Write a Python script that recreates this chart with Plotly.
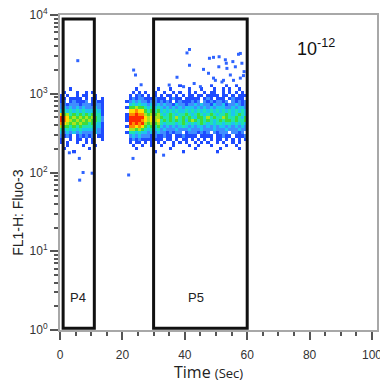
import numpy as np
import plotly.graph_objects as go

# ---------------- data ----------------
# density grid: 1-second time bins (0..59), rows are log10(FL1-H) bin centres (top -> bottom)
fl_row_log = [3.10, 3.06, 3.02, 2.98, 2.94, 2.90, 2.86, 2.82, 2.78, 2.74, 2.70,
              2.66, 2.62, 2.58, 2.54, 2.50, 2.46, 2.42, 2.38, 2.34, 2.30, 2.26]
time_bin_start = list(range(60))

# event density level per cell ('.' = no events, 1 = sparse ... 9 = densest)
# first cluster, t = 0..14 s
density_p4 = [
    "..............",
    "...1..........",
    ".1...1..1.1...",
    "1.1..1.11..1..",
    "11.1111.1.11.1",
    "12.121112.1211",
    "22122212221221",
    "23232323222321",
    "34343434333431",
    "75645454545441",
    "98756565656542",
    "98765656565542",
    "87656565545431",
    "65545454444331",
    "43434343333321",
    "32323232222321",
    "2121.121212.11",
    "1..1.11.1.1..1",
    "1.1..1..1.1...",
    "..1....1...1..",
    ".1.......1....",
    "....1.........",
]
# no events, t = 14..21 s
density_gap = "......."
# second cluster, t = 21..60 s
density_p5 = [
    "." + "....." + "....." + "......1.........1....1..1...",
    "." + "..1.." + "....1" + "...1.....1...1...1..1.1..1..",
    "." + ".1.1." + "1..1." + ".1..1.1..1.1..1.11..1.1.1.1.",
    "." + "1.121" + ".1.1." + "1.11.1.1.11.11.1111.11.1.111",
    "." + "12122" + "11121" + "11.1211.11111.121.111.12111.",
    "1" + "23232" + "21221" + "2121.12111212.21212212.21212",
    "." + "34343" + "32323" + "2322132212232322132231223212",
    "1" + "55655" + "43434" + "3232323233323232323332232332",
    "." + "77877" + "54545" + "3434343343434343434343434343",
    "1" + "88988" + "65656" + "4345434454345434543445434543",
    "1" + "99999" + "76766" + "5445464545435546454465445435",
    "1" + "99998" + "76767" + "4545454535654545434545545445",
    "." + "98989" + "65656" + "4344434543434543434434434343",
    "1" + "88787" + "54545" + "3232323432323323232332323232",
    "." + "66565" + "43434" + "2322232223222322232223222322",
    "1" + "44343" + "32323" + "2212122.12221212.21222.2212.",
    "." + "23232" + "22121" + "1211.1121111.1111.11211.1112",
    "." + "12121" + "11111" + "1.11.1.11.1.1.1.1.11.1.1.1.1",
    "." + "1.11." + "1.1.1" + ".1..1.1.1..1.1.1..1.1..1.1..",
    "." + ".1..1" + "..1.." + "1...1....1..1...1....1..1...",
    "." + "..1.." + "....." + "...1.......1.......1.....1..",
    "." + "....." + "...1." + ".......1..........1.........",
]

# isolated events outside the main band (time s, FL1-H)
outlier_time = [40.7, 41.5, 41.5, 37.5, 46.0, 47.9, 49.2, 51.0, 53.0, 53.3, 53.5,
                47.6, 50.9, 55.4, 56.2, 57.2, 57.8, 58.3, 59.0, 54.6, 51.9, 49.8,
                55.6, 57.8, 39.6, 45.0, 49.2, 52.4, 43.0, 35.0, 58.8, 26.0,
                5.7, 23.6, 24.2, 6.2, 7.4, 6.3, 10.3, 22.0, 23.4, 3.0, 33.2]
outlier_fl = [3300, 3650, 2300, 1620, 2040, 2820, 2900, 2950, 2700, 2440, 2100,
              1820, 2200, 2560, 2200, 3170, 3250, 2440, 1910, 1730, 1410, 1480,
              1480, 1580, 1230, 1230, 1580, 1480, 1350, 1290, 1700, 1300,
              2630, 2000, 1730, 151, 100, 80, 98, 93, 151, 178, 166]

# gates
gate_names = ["P4", "P5"]
gate_t0 = [1.0, 30.0]
gate_t1 = [11.0, 60.0]
gate_fl0 = [1.05, 1.05]
gate_fl1 = [8900, 8900]
gate_label_fl = [2.55, 2.55]

x_tick_vals = [0, 20, 40, 60, 80, 100]
y_tick_exp = [0, 1, 2, 3, 4]
level_colors = ["#1f4cff", "#3f8dff", "#1cc6ee", "#1fe3b0", "#3fdc3a",
                "#a9e41e", "#ffe000", "#ff8a00", "#ff2a00"]

# ---------------- figure ----------------
z = []
for left, right in zip(density_p4, density_p5):
    row = (left + density_gap + right)[:60].ljust(60, ".")
    z.append([int(c) if c != "." else None for c in row])

cs = []
n = len(level_colors)
for k, c in enumerate(level_colors):
    cs.append([k / n, c])
    cs.append([(k + 1) / n, c])

fig = go.Figure()
fig.add_trace(go.Heatmap(
    x=[t + 0.5 for t in time_bin_start], y=fl_row_log, z=z,
    colorscale=cs, zmin=0.5, zmax=9.5, showscale=False, hoverinfo="skip",
))
fig.add_trace(go.Scatter(
    x=outlier_time, y=np.log10(outlier_fl), mode="markers",
    marker=dict(symbol="square", size=3, color="#2f64ff", line=dict(width=0)),
    hoverinfo="skip", showlegend=False,
))

for name, t0, t1, f0, f1, fl in zip(gate_names, gate_t0, gate_t1, gate_fl0, gate_fl1, gate_label_fl):
    fig.add_shape(type="rect", xref="x", yref="y", x0=t0, x1=t1,
                  y0=np.log10(f0), y1=np.log10(f1),
                  line=dict(color="#111111", width=3))
    fig.add_annotation(x=(t0 + t1) / 2 - (0.1 if name == "P4" else 1.5), y=np.log10(fl),
                       xref="x", yref="y", text=name, showarrow=False,
                       xanchor="center", yanchor="middle",
                       font=dict(size=13, color="#222222", family="Liberation Sans, Arial"))

fig.add_annotation(x=0.808, y=0.898, xref="paper", yref="paper",
                   text="10<sup>-12</sup>", showarrow=False, xanchor="center", yanchor="middle",
                   font=dict(size=18, color="#111111", family="Liberation Sans, Arial"))
fig.add_annotation(x=-0.1325, y=0.375, xref="paper", yref="paper",
                   text="FL1-H: Fluo-3", textangle=-90, showarrow=False,
                   xanchor="center", yanchor="middle",
                   font=dict(size=14, color="#222222", family="Liberation Sans, Arial"))
fig.add_annotation(x=0.47, y=-0.133, xref="paper", yref="paper",
                   text="Time <span style='font-size:13px'>(Sec)</span>", showarrow=False,
                   xanchor="center", yanchor="middle",
                   font=dict(size=16, color="#222222", family="Open Sans, Liberation Sans"))

minor_y = [float(np.log10(k * 10 ** e)) for e in range(4) for k in range(2, 10)]

fig.update_xaxes(
    range=[0, 101.6], tickvals=x_tick_vals, ticks="outside", ticklen=8, tickwidth=1.5,
    tickcolor="#555555", showline=True, linecolor="#a8a8a8", linewidth=2, mirror=True,
    showgrid=False, zeroline=False, ticklabelstandoff=5, automargin=False,
    ticklabeloverflow="allow",
    tickfont=dict(size=12, color="#333333", family="Liberation Sans, Arial"),
    minor=dict(ticks="outside", ticklen=4, tickwidth=1.5, tickcolor="#555555", dtick=5, tick0=0, showgrid=False),
)
fig.update_yaxes(
    range=[0, 4], tickvals=y_tick_exp, ticktext=[f"10<sup>{e}</sup>" for e in y_tick_exp],
    ticks="outside", ticklen=8, tickwidth=1.5, tickcolor="#555555",
    showline=True, linecolor="#a8a8a8", linewidth=2, mirror=True,
    showgrid=False, zeroline=False, automargin=False, ticklabeloverflow="allow",
    tickfont=dict(size=12, color="#333333", family="Liberation Sans, Arial"),
    minor=dict(ticks="outside", ticklen=4, tickwidth=1.5, tickcolor="#555555", tickvals=minor_y, showgrid=False),
)
fig.update_layout(
    width=380, height=387, margin=dict(l=60, r=3, t=15, b=57),
    paper_bgcolor="white", plot_bgcolor="white", showlegend=False,
)
fig.write_html("out.html", config={"displayModeBar": False},
               post_script="document.body.style.margin='0';document.body.style.overflow='hidden';")
